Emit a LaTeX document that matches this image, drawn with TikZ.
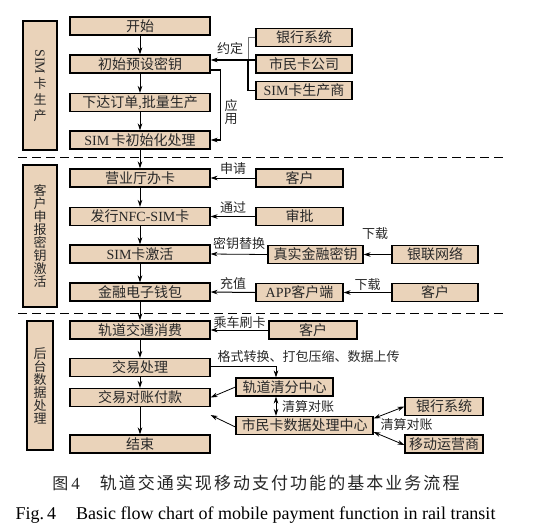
\documentclass[tikz,border=0pt]{standalone}
\usepackage{fontspec}
\usepackage{graphicx}
\setmainfont{Liberation Serif}
\newfontfamily\cjk{Noto Sans CJK SC}
\newfontfamily\cjkcap[LetterSpace=12]{Noto Sans CJK SC}
\newfontfamily\latf{Liberation Serif}
\usetikzlibrary{arrows.meta}
\definecolor{boxfill}{RGB}{234,211,186}
\definecolor{txt}{RGB}{40,40,40}
\newcommand\bxfont{\cjk\fontsize{14}{14}\selectfont}
\newcommand\lbfont{\cjk\fontsize{13}{13}\selectfont}
\tikzset{
  box/.style={draw=black, line width=1.1pt, fill=boxfill, inner sep=0pt,
    minimum height=18pt, font=\bxfont, text=txt},
  sidebox/.style={draw=black, line width=1.1pt, fill=boxfill, inner sep=0pt,
    font=\lbfont, text=txt, align=center},
  arr/.style={-{Stealth[length=7pt,width=4.5pt]}, line width=1pt},
  tarr/.style={-{Stealth[length=7pt,width=4.5pt]}, line width=0.8pt},
  darr/.style={{Stealth[length=7pt,width=4.5pt]}-{Stealth[length=7pt,width=4.5pt]}, line width=0.8pt},
  lbl/.style={font=\lbfont, text=txt, inner sep=0pt},
  sep/.style={dash pattern=on 9pt off 5pt, line width=0.9pt},
}
\begin{document}
\begin{tikzpicture}[x=1pt,y=-1pt]
\fill[white] (0,0) rectangle (534,531);
\useasboundingbox (0,0) rectangle (534,531);

% separators
\coordinate (sa) at (18,157);
\coordinate (sb) at (505,157);
\coordinate (sc) at (18,313);
\coordinate (sd) at (505,313);
\draw[sep] (sa) -- (sb);
\draw[sep] (sc) -- (sd);

% side boxes
\node[sidebox, minimum width=34pt, minimum height=129pt] (s1) at (40,85.5)
  {\rotatebox{-90}{\latf\fontsize{14}{14}\selectfont SIM}\\[2pt]卡\\[3pt]生\\[3pt]产};
\node[sidebox, minimum width=34pt, minimum height=142pt] (s2) at (40,236)
  {\baselineskip=17pt 客\\户\\申\\报\\密\\钥\\激\\活};
\node[sidebox, minimum width=26pt, minimum height=129pt] (s3) at (40,385.5)
  {\baselineskip=17.5pt 后\\台\\数\\据\\处\\理};

% main column
\node[box, minimum width=140pt] (start) at (140,26) {开始};
\node[box, minimum width=140pt] (init) at (140,64) {初始预设密钥};
\node[box, minimum width=140pt] (order) at (140,102.5) {下达订单{\latf ,}批量生产};
\node[box, minimum width=140pt] (siminit) at (140,140) {{\latf SIM}\,卡初始化处理};
\node[box, minimum width=140pt] (hall) at (140,178) {营业厅办卡};
\node[box, minimum width=140pt] (issue) at (140,216.5) {发行{\latf NFC-SIM}卡};
\node[box, minimum width=140pt] (act) at (140,254) {{\latf SIM}卡激活};
\node[box, minimum width=140pt] (wallet) at (140,292) {金融电子钱包};
\node[box, minimum width=140pt] (rail) at (140,330) {轨道交通消费};
\node[box, minimum width=140pt] (proc) at (140,367.5) {交易处理};
\node[box, minimum width=140pt] (recon) at (140,397.5) {交易对账付款};
\node[box, minimum width=140pt] (end) at (140,444) {结束};

\draw[arr] (start.south) -- (init.north);
\draw[arr] (init.south) -- (order.north);
\draw[arr] (order.south) -- (siminit.north);
\draw[arr] (siminit.south) -- (hall.north);
\draw[arr] (hall.south) -- (issue.north);
\draw[arr] (issue.south) -- (act.north);
\draw[arr] (act.south) -- (wallet.north);
\draw[arr] (wallet.south) -- (rail.north);
\draw[arr] (rail.south) -- (proc.north);
\draw[arr] (proc.south) -- (recon.north);
\draw[arr] (recon.south) -- (end.north);

% section 1 right
\node[box, minimum width=96pt] (bank) at (304,37.5) {银行系统};
\node[box, minimum width=96pt] (smk) at (304,64) {市民卡公司};
\node[box, minimum width=96pt] (mfr) at (304,90.5) {{\latf SIM}卡生产商};
\coordinate (bx) at (248,0);
\draw[line width=0.6pt, black!55] (bank.west) -- (bank.west -| bx) -- ([yshift=4pt]smk.west -| bx);
\draw[line width=1.2pt] ([yshift=4pt]smk.west -| bx) -- (mfr.west -| bx) -- (mfr.west);
\draw[line width=1.2pt] ([yshift=4pt]smk.west) -- ([yshift=4pt]smk.west -| bx);
\draw[arr, line width=1.2pt] ([yshift=4pt]smk.west -| bx) -- ([yshift=4pt]init.east);
\node[lbl] (lyd) at (230,49) {约定};
\draw[arr, line width=1.2pt] ([yshift=-6pt]init.east) -- ++(10,0) |- (siminit.east);
\node[lbl, align=center] (lyy) at (231,112) {\baselineskip=15pt 应\\用};

% section 2 right
\node[box, minimum width=87pt] (cust1) at (299.5,178) {客户};
\node[box, minimum width=87pt] (appr) at (299.5,216.5) {审批};
\node[box, minimum width=95pt] (rkey) at (315.5,254.5) {真实金融密钥};
\node[box, minimum width=86pt] (union) at (435,254.5) {银联网络};
\node[box, minimum width=87pt] (app) at (299.5,292.5) {{\latf APP}客户端};
\node[box, minimum width=86pt] (cust2) at (435,292.5) {客户};

\draw[tarr] (cust1.west) -- (hall.east) node[lbl, midway, above=3pt] {申请};
\draw[tarr] (appr.west) -- (issue.east) node[lbl, midway, above=3pt] {通过};
\draw[tarr] (rkey.west) -- (act.east) node[lbl, midway, above=4pt] {密钥替换};
\draw[tarr] (union.west) -- (rkey.east);
\node[lbl] (ldl1) at (375,234) {下载};
\draw[arr] (app.west) -- (wallet.east) node[lbl, midway, above=2pt] {充值};
\draw[arr, line width=1.3pt] (cust2.west) -- (app.east) node[lbl, midway, above=1pt] {下载};

% section 3 right
\node[box, minimum width=88pt] (cust3) at (313,330) {客户};
\node[box, minimum width=97pt] (clear) at (284.5,387) {轨道清分中心};
\node[box, minimum width=137pt] (city) at (304.5,425.5) {市民卡数据处理中心};
\node[box, minimum width=78pt] (bank2) at (444,406.5) {银行系统};
\node[box, minimum width=78pt] (mob) at (444,444) {移动运营商};

\draw[tarr] (cust3.west) -- (rail.east) node[lbl, midway, above=1pt] {乘车刷卡};
\coordinate (cx) at (276,0);
\draw[tarr] ([yshift=1.5pt]proc.east) -- ([yshift=1.5pt]proc.east -| cx) -- (clear.north -| cx);
\node[lbl] (lfmt) at (308.5,357) {格式转换、打包压缩、数据上传};
\draw[darr] (clear.south -| cx) -- (city.north -| cx);
\node[lbl, anchor=west] (lqs1) at (282,407) {清算对账};
\draw[darr] ([yshift=7pt]city.east) -- (bank2.west);
\draw[darr] ([yshift=-6.5pt]city.east) -- ([yshift=-1pt]mob.west);
\node[lbl] (lqs2) at (406.5,425) {清算对账};
\draw[tarr] (clear.west) -- (recon.east);
\draw[tarr] ([yshift=-1.5pt]city.west) -- ([yshift=-8pt]recon.south east);

% captions
\node[inner sep=0pt, text=black!85] (cap1) at (256,483)
  {\cjk\fontsize{16}{16}\selectfont 图{\latf\fontsize{17}{17}\selectfont\,4}\hspace{20pt}{\cjkcap\fontsize{17}{17}\selectfont 轨道交通实现移动支付功能的基本业务流程}};
\node[inner sep=0pt, text=black] (cap2) at (255.5,515)
  {\latf\fontsize{18}{18}\selectfont Fig.\,4\hspace{20pt}Basic flow chart of mobile payment function in rail transit};
\end{tikzpicture}
\end{document}
